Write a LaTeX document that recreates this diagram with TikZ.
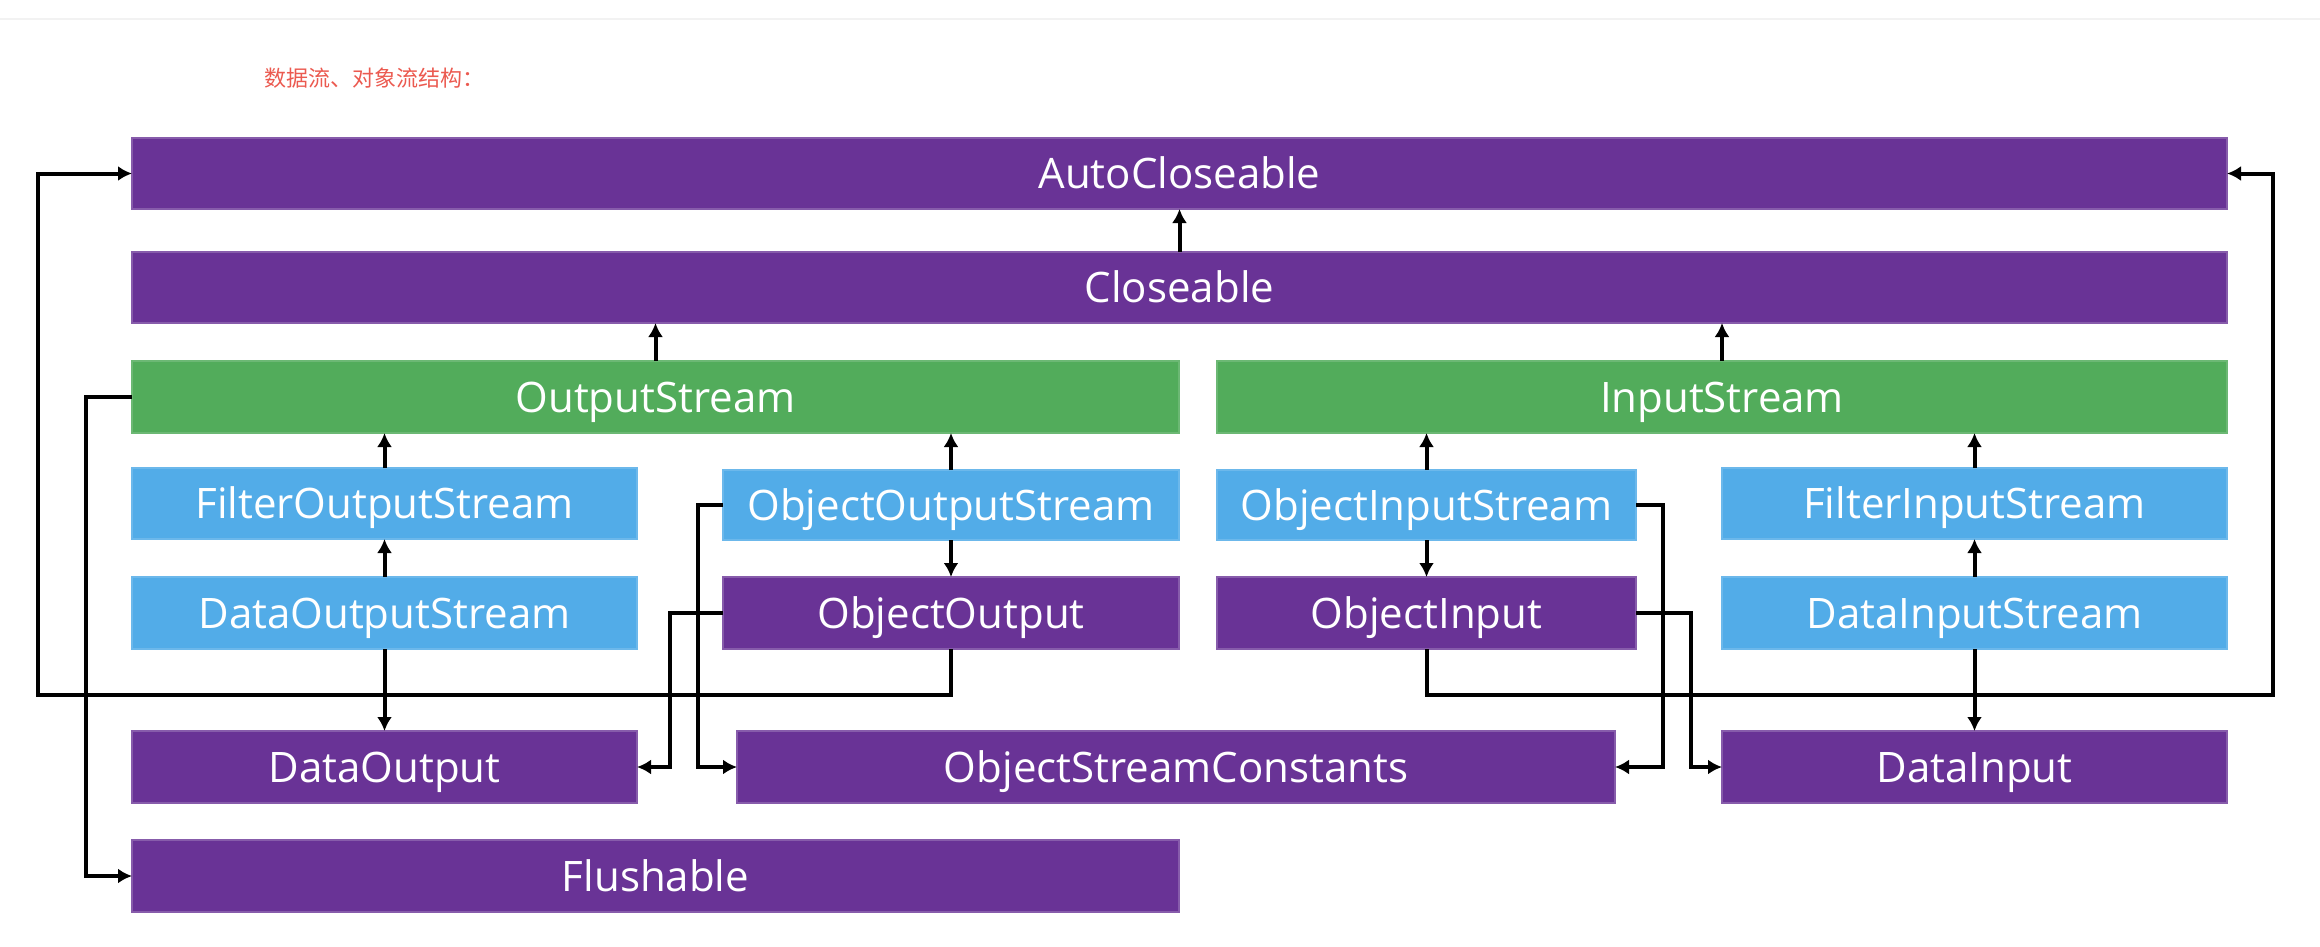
\documentclass[tikz,border=0pt]{standalone}
\usepackage{fontspec}
\usetikzlibrary{arrows.meta}
\newfontfamily\bxfont{Open Sans}
\newfontfamily\cjkfont{Noto Sans CJK SC}
\definecolor{cpurple}{RGB}{105,51,150}
\definecolor{cgreen}{RGB}{82,172,91}
\definecolor{cblue}{RGB}{82,172,232}
\definecolor{ctitle}{RGB}{235,90,80}
\definecolor{cline}{RGB}{242,242,242}
\tikzset{
  box/.style={inner sep=0pt, outer sep=0pt, text=white, line width=1.2pt,
    font={\bxfont\fontsize{42}{42}\selectfont}, text height=30pt, text depth=0pt},
  pbox/.style={box, fill=cpurple, draw=cpurple!80!white},
  gbox/.style={box, fill=cgreen, draw=cgreen!85!white},
  bbox/.style={box, fill=cblue, draw=cblue!85!white},
  arr/.style={draw=black, line width=4pt, -{Latex[length=14pt,width=15pt]}},
}
\begin{document}
\begin{tikzpicture}[x=1pt,y=-1pt]
\useasboundingbox (0,0) rectangle (2320,946);
\draw[cline, line width=2pt] (0,19) -- (2320,19);
\node[anchor=west, text=ctitle, font={\cjkfont\fontsize{22}{22}\selectfont}, inner sep=0pt] (title) at (264,78) {数据流、对象流结构：};

\node[pbox, minimum width=2095pt, minimum height=71pt] (ac) at (1179.5,173.5) {AutoCloseable};
\node[pbox, minimum width=2095pt, minimum height=71pt] (cl) at (1179.5,287.5) {Closeable};
\node[gbox, minimum width=1047pt, minimum height=72pt] (os) at (655.5,397) {OutputStream};
\node[gbox, minimum width=1010pt, minimum height=72pt] (is) at (1722,397) {InputStream};
\node[bbox, minimum width=505pt, minimum height=71pt] (fos) at (384.5,503.5) {FilterOutputStream};
\node[bbox, minimum width=456pt, minimum height=70pt] (oos) at (951,505) {ObjectOutputStream};
\node[bbox, minimum width=505pt, minimum height=72pt] (dos) at (384.5,613) {DataOutputStream};
\node[pbox, minimum width=456pt, minimum height=72pt] (oo) at (951,613) {ObjectOutput};
\node[bbox, minimum width=419pt, minimum height=70pt] (ois) at (1426.5,505) {ObjectInputStream};
\node[pbox, minimum width=419pt, minimum height=72pt] (oi) at (1426.5,613) {ObjectInput};
\node[bbox, minimum width=505pt, minimum height=71pt] (fis) at (1974.5,503.5) {FilterInputStream};
\node[bbox, minimum width=505pt, minimum height=72pt] (dis) at (1974.5,613) {DataInputStream};
\node[pbox, minimum width=505pt, minimum height=72pt] (do) at (384.5,767) {DataOutput};
\node[pbox, minimum width=878pt, minimum height=72pt] (osc) at (1176,767) {ObjectStreamConstants};
\node[pbox, minimum width=505pt, minimum height=72pt] (di) at (1974.5,767) {DataInput};
\node[pbox, minimum width=1047pt, minimum height=72pt] (fl) at (655.5,876) {Flushable};

% vertical arrows
\draw[arr] (cl.north) -- (ac.south);
\draw[arr] (os.north) -- (os.north |- cl.south);
\draw[arr] (is.north) -- (is.north |- cl.south);
\draw[arr] (fos.north) -- (fos.north |- os.south);
\draw[arr] (oos.north) -- (oos.north |- os.south);
\draw[arr] (dos.north) -- (fos.south);
\draw[arr] (oos.south) -- (oo.north);
\draw[arr] (dos.south) -- (do.north);
\draw[arr] (ois.north) -- (ois.north |- is.south);
\draw[arr] (fis.north) -- (fis.north |- is.south);
\draw[arr] (ois.south) -- (oi.north);
\draw[arr] (dis.north) -- (fis.south);
\draw[arr] (dis.south) -- (di.north);

% elbow connectors
\coordinate (loopL) at (38,695);
\coordinate (loopR) at (2273,695);
\coordinate (xfl) at (86,0);
\coordinate (xoos) at (698,0);
\coordinate (xoo) at (670,0);
\coordinate (xois) at (1663,0);
\coordinate (xoi) at (1691,0);
\draw[arr] (oo.south) |- (loopL) |- (ac.west);
\draw[arr] (oi.south) |- (loopR) |- (ac.east);
\draw[arr] (os.west) -- (os.west -| xfl) |- (fl.west);
\draw[arr] (oos.west) -- (oos.west -| xoos) |- (osc.west);
\draw[arr] (oo.west) -- (oo.west -| xoo) |- (do.east);
\draw[arr] (ois.east) -- (ois.east -| xois) |- (osc.east);
\draw[arr] (oi.east) -- (oi.east -| xoi) |- (di.west);
\end{tikzpicture}
\end{document}
